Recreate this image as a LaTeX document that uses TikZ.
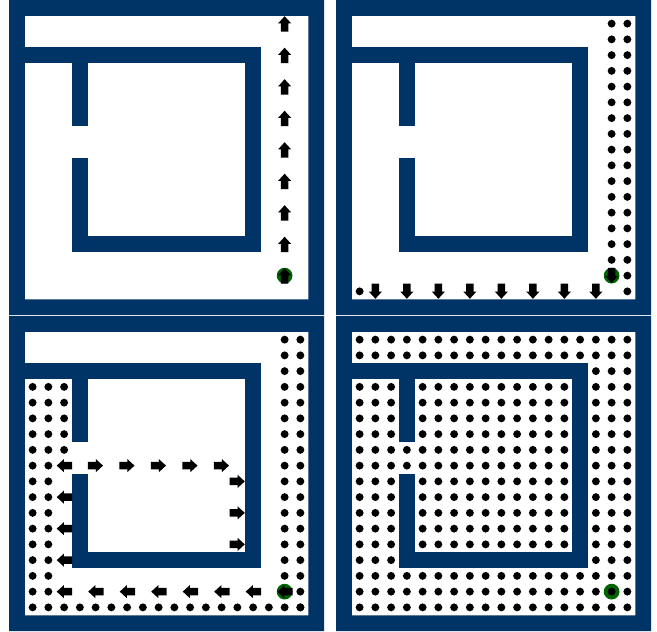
\documentclass[tikz,border=0pt]{standalone}
\definecolor{wallblue}{HTML}{003366}
\definecolor{goalgreen}{HTML}{006400}
\tikzset{
  wall/.style={fill=wallblue,draw=none},
  goalmark/.style={fill=goalgreen,draw=none},
  dotmark/.style={fill=black,draw=none},
  pics/arr/.style={code={\fill[black] (-0.5,-0.24)--(0.02,-0.24)--(0.02,-0.41)--(0.47,0)--(0.02,0.41)--(0.02,0.24)--(-0.5,0.24)--cycle;}}
}
% cell helpers: column, row (0-indexed, row counted from the top)
\newcommand{\Dt}[2]{\fill[dotmark] (#1+.5,#2+.5) circle (0.25);}
\newcommand{\Ar}[3]{\pic[rotate=#3] at (#1+.5,#2+.5) {arr};}
\newcommand{\Gl}{\fill[goalmark] (17.5,17.5) circle (0.5);}
\newcommand{\Maze}{%
  \fill[wall,even odd rule] (0,0) rectangle (20,20) (1,1) rectangle (19,19);
  \fill[wall] (1,3) rectangle (16,4);
  \fill[wall] (15,3) rectangle (16,16);
  \fill[wall] (4,15) rectangle (16,16);
  \fill[wall] (4,3) rectangle (5,8);
  \fill[wall] (4,10) rectangle (5,16);
}
\begin{document}
\begin{tikzpicture}[x=1pt,y=-1pt]
\useasboundingbox (0,0) rectangle (657,632);
% panel 1
\begin{scope}[shift={(9,0)},x=15.75pt,y=-15.75pt]
  \Maze \Gl
  \foreach \r in {1,3,...,17} {\Ar{17}{\r}{90}}
\end{scope}
% panel 2
\begin{scope}[shift={(336,0)},x=15.75pt,y=-15.75pt]
  \Maze \Gl
  \foreach \r in {1,...,18} {\Dt{18}{\r}}
  \foreach \r in {1,...,16} {\Dt{17}{\r}}
  \Dt{1}{18}
  \foreach \c in {2,4,...,16} {\Ar{\c}{18}{-90}}
  \Ar{17}{17}{-90}
\end{scope}
% panel 3
\begin{scope}[shift={(9,316)},x=15.75pt,y=-15.75pt]
  \Maze \Gl
  \foreach \r in {1,...,18} {\Dt{18}{\r}}
  \foreach \r in {1,...,16} {\Dt{17}{\r}}
  \foreach \c in {1,...,18} {\Dt{\c}{18}}
  \foreach \c in {1,2} {\foreach \r in {4,...,17} {\Dt{\c}{\r}}}
  \foreach \r in {4,...,8} {\Dt{3}{\r}}
  \foreach \c in {3,5,...,17} {\Ar{\c}{17}{180}}
  \foreach \r in {9,11,13,15} {\Ar{3}{\r}{180}}
  \foreach \c in {5,7,...,13} {\Ar{\c}{9}{0}}
  \foreach \r in {10,12,14} {\Ar{14}{\r}{0}}
\end{scope}
% panel 4
\begin{scope}[shift={(336,316)},x=15.75pt,y=-15.75pt]
  \Maze \Gl
  \foreach \r in {1,2,16,17,18} {\foreach \c in {1,...,18} {\Dt{\c}{\r}}}
  \foreach \r in {3,...,15} {\foreach \c in {16,17,18} {\Dt{\c}{\r}}}
  \foreach \r in {4,...,15} {\foreach \c in {1,2,3} {\Dt{\c}{\r}}}
  \foreach \r in {4,...,14} {\foreach \c in {5,...,14} {\Dt{\c}{\r}}}
  \Dt{4}{8} \Dt{4}{9}
\end{scope}
\end{tikzpicture}
\end{document}
